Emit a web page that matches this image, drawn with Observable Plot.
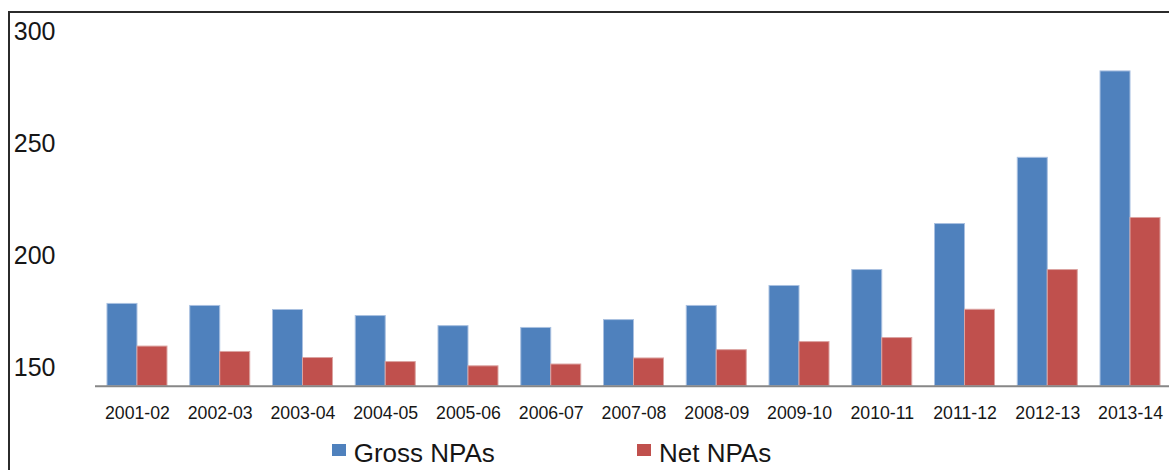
<!DOCTYPE html>
<html>
<head>
<meta charset="utf-8">
<script src="https://cdn.jsdelivr.net/npm/d3@7"></script>
<script src="https://cdn.jsdelivr.net/npm/@observablehq/plot@0.6"></script>
<style>
  html, body { margin: 0; padding: 0; background: #fff; }
  body { width: 1169px; height: 470px; overflow: hidden; position: relative;
         font-family: "Liberation Sans", Arial, sans-serif; }
  #chart { position: absolute; left: 0; top: 0; }
  #frame { position: absolute; left: 8px; top: 11px; width: 1200px; height: 500px;
           border-top: 2px solid #2b2b2b; border-left: 2px solid #2b2b2b; pointer-events: none; }
  .leg { position: absolute; font-size: 26px; line-height: 26px; color: #161616; white-space: nowrap; }
  .sw { position: absolute; width: 14px; height: 12px; }
</style>
</head>
<body>
<div id="chart"></div>
<div id="frame"></div>
<div id="legend"></div>
<script>
// ---- data ----
const years = ["2001-02","2002-03","2003-04","2004-05","2005-06","2006-07","2007-08",
               "2008-09","2009-10","2010-11","2011-12","2012-13","2013-14"];
const grossNPAs = [178.7, 177.8, 176.0, 173.3, 168.8, 168.0, 171.5, 177.8, 186.7, 193.8, 214.3, 243.8, 282.3];
const netNPAs   = [159.7, 157.3, 154.6, 152.8, 150.9, 151.7, 154.4, 158.1, 161.7, 163.5, 176.1, 193.8, 217.0];
const seriesNames = ["Gross NPAs", "Net NPAs"];
const seriesColors = ["#4F81BD", "#C0504D"];
const yTicks = [150, 200, 250, 300];
const axisBase = 142;

const rows = years.map((year, i) => ({year, gross: grossNPAs[i], net: netNPAs[i]}));

const chart = Plot.plot({
  width: 1169,
  height: 430,
  marginLeft: 95,
  marginRight: 0,
  marginTop: 31,
  marginBottom: 44,
  style: {background: "transparent", fontFamily: "'Liberation Sans', Arial, sans-serif", color: "#161616"},
  x: {domain: years, range: [95.6, 1171.4], paddingInner: 0.275, paddingOuter: 0.1375, round: false, label: null},
  y: {domain: [axisBase, 300], range: [385.8, 31.2], label: null},
  marks: [
    Plot.barY(rows, {x: "year", y1: axisBase, y2: "gross", fill: seriesColors[0],
                     stroke: "#a9c0e0", strokeWidth: 1, insetRight: 30}),
    Plot.barY(rows, {x: "year", y1: axisBase, y2: "net", fill: seriesColors[1],
                     stroke: "#dba3a1", strokeWidth: 1, insetLeft: 30}),
    Plot.ruleY([axisBase], {stroke: "#878787", strokeWidth: 2}),
    Plot.axisX({tickSize: 0, tickPadding: 19.5, fontSize: 17.7, label: null}),
    Plot.axisY({ticks: yTicks, tickSize: 0, tickPadding: 40, fontSize: 25, label: null})
  ]
});
document.getElementById("chart").appendChild(chart);

// legend (HTML, below the plot area)
const legend = document.getElementById("legend");
const legendLeft = [331.7, 637];
seriesNames.forEach((name, i) => {
  const sw = document.createElement("div");
  sw.className = "sw";
  sw.style.left = legendLeft[i] + "px";
  sw.style.top = "444px";
  sw.style.background = seriesColors[i];
  legend.appendChild(sw);
  const t = document.createElement("div");
  t.className = "leg";
  t.style.left = (legendLeft[i] + 22) + "px";
  t.style.top = "440px";
  t.textContent = name;
  legend.appendChild(t);
});
</script>
</body>
</html>
